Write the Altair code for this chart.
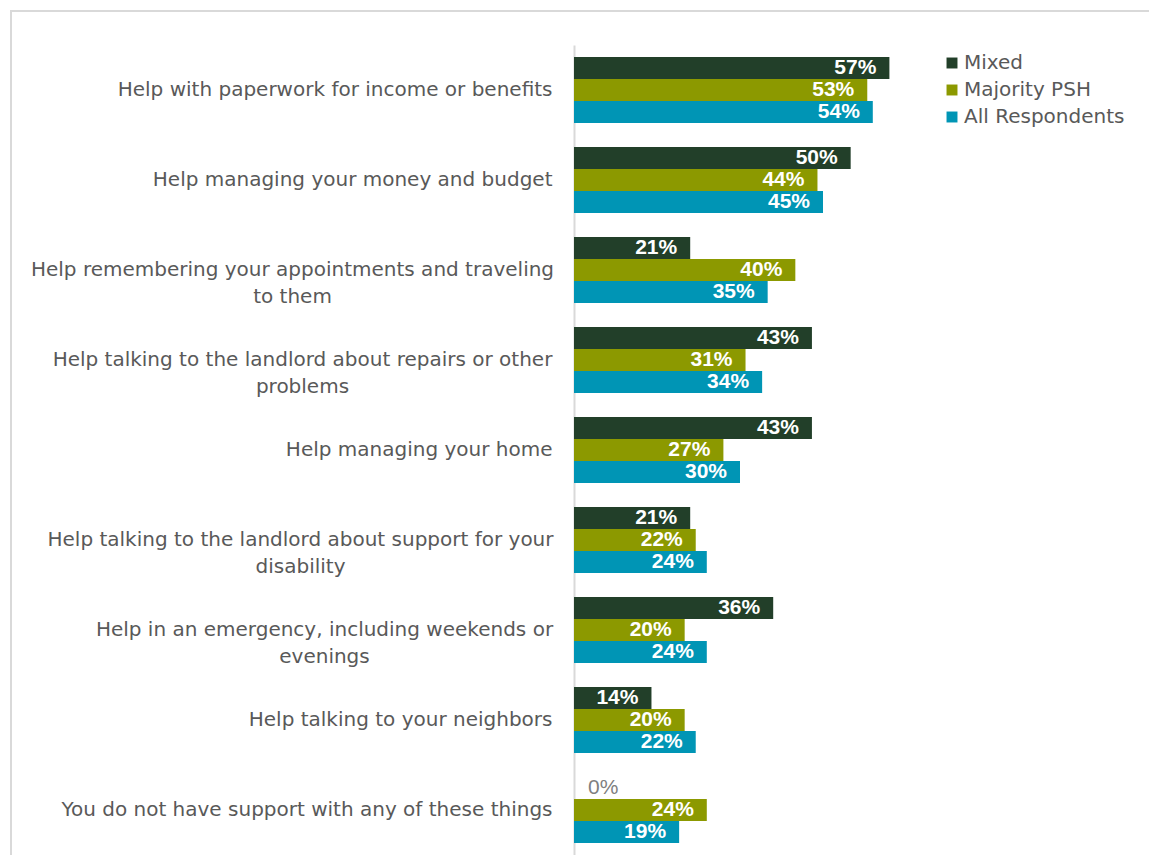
import altair as alt
import pandas as pd

categories = [
    "Help with paperwork for income or benefits",
    "Help managing your money and budget",
    "Help remembering your appointments and traveling|to them",
    "Help talking to the landlord about repairs or other|problems",
    "Help managing your home",
    "Help talking to the landlord about support for your|disability",
    "Help in an emergency, including weekends or|evenings",
    "Help talking to your neighbors",
    "You do not have support with any of these things",
]
series = ["Mixed", "Majority PSH", "All Respondents"]
mixed = [57, 50, 21, 43, 43, 21, 36, 14, 0]
majority_psh = [53, 44, 40, 31, 27, 22, 20, 20, 24]
all_resp = [54, 45, 35, 34, 30, 24, 24, 22, 19]
colors = ["#223f29", "#8c9900", "#0095b5"]

rows = []
for i, c in enumerate(categories):
    for s, vals in zip(series, [mixed, majority_psh, all_resp]):
        rows.append({"category": c, "series": s, "value": vals[i],
                     "label": f"{vals[i]}%"})
df = pd.DataFrame(rows)

FONT = "DejaVu Sans"
LFONT = "Liberation Sans"

# two-line labels are centred on their first line, as in the original
pad_conditions = [
    {"test": "indexof(datum.value, 'traveling|') >= 0", "value": 282},
    {"test": "indexof(datum.value, 'other|') >= 0", "value": 272},
    {"test": "indexof(datum.value, 'your|') >= 0", "value": 274},
    {"test": "indexof(datum.value, 'weekends or|') >= 0", "value": 250},
]

y_enc = alt.Y("category:N", sort=categories,
              scale=alt.Scale(paddingInner=0.267, paddingOuter=0.133),
              axis=alt.Axis(title=None, ticks=False, domain=True,
                            domainColor="#d9d9d9", domainWidth=2,
                            labelFont=FONT, labelFontSize=20,
                            labelColor="#595959",
                            labelPadding={"condition": pad_conditions, "value": 22},
                            labelAlign={"condition": {"test": "indexof(datum.value, '|') >= 0",
                                                      "value": "center"},
                                        "value": "right"},
                            labelLimit=700, labelLineHeight=27,
                            labelExpr="split(datum.label, '|')"))
yoff = alt.YOffset("series:N", sort=series, scale=alt.Scale(paddingInner=0, paddingOuter=0))
x_enc = alt.X("value:Q", scale=alt.Scale(domain=[0, 60]), axis=None)

base = alt.Chart(df)

bars = base.mark_bar().encode(
    x=x_enc, y=y_enc, yOffset=yoff,
    color=alt.Color("series:N", sort=series,
                    scale=alt.Scale(domain=series, range=colors),
                    legend=alt.Legend(title=None, orient="none",
                                      legendX=368, legendY=8,
                                      symbolType="square", symbolSize=120,
                                      symbolStrokeWidth=0,
                                      labelFont=FONT, labelFontSize=20,
                                      labelLimit=400,
                                      labelColor="#595959", rowPadding=7,
                                      labelOffset=2)),
)

labels = base.transform_filter("datum.value > 0").mark_text(
    align="right", baseline="middle", dx=-13, font=LFONT, fontSize=21,
    fontWeight="bold", color="white"
).encode(x=x_enc, y=alt.Y("category:N", sort=categories), yOffset=yoff,
         text="label:N")

zero_labels = base.transform_filter("datum.value == 0").mark_text(
    align="left", baseline="middle", dx=14, font=LFONT, fontSize=21,
    color="#7f7f7f"
).encode(x=x_enc, y=alt.Y("category:N", sort=categories), yOffset=yoff,
         text="label:N")

frame = alt.Chart(pd.DataFrame({"a": [0]})).mark_rect(
    fill="transparent", stroke="#d9d9d9", strokeWidth=2, clip=False
).encode(x=alt.value(-563), x2=alt.value(700), y=alt.value(-34), y2=alt.value(900))

chart = alt.layer(frame, bars, labels, zero_labels).properties(
    width=332, height=810,
    autosize=alt.AutoSizeParams(type="none"),
    padding={"left": 566, "top": 37, "right": 243, "bottom": 0},
).configure(background="white").configure_view(strokeWidth=0, stroke="transparent")

chart.save("out.html", embed_options={"renderer": "svg", "actions": False})
